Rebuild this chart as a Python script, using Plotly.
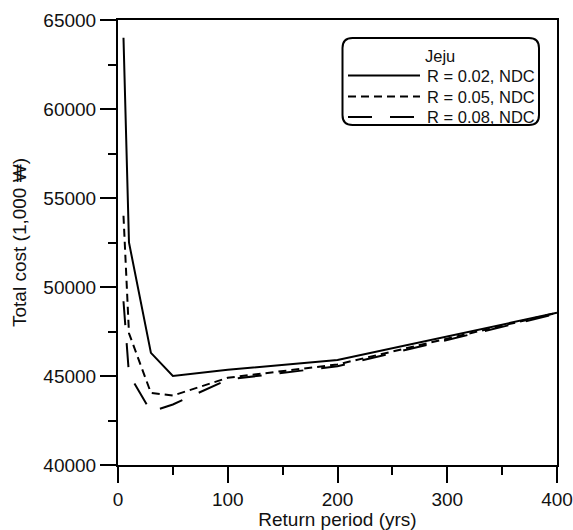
import plotly.graph_objects as go

# Return periods (years) and total cost (1,000 won) for Jeju under three discount rates
return_period = [5, 10, 30, 50, 100, 200, 400]
cost_r002 = [64000, 52500, 46300, 45000, 45350, 45900, 48550]
cost_r005 = [54000, 47400, 44050, 43900, 44900, 45650, 48550]
cost_r008 = [49200, 45100, 43000, 43400, 44800, 45550, 48500]

series_names = ["R = 0.02, NDC", "R = 0.05, NDC", "R = 0.08, NDC"]
series_values = [cost_r002, cost_r005, cost_r008]
series_dash = ["solid", "8px,5px", "24px,18px"]

x_ticks = [0, 100, 200, 300, 400]
y_ticks = [40000, 45000, 50000, 55000, 60000, 65000]

FONT = "Liberation Sans, Arial, sans-serif"
W, H = 573, 530
L, R, T, B = 118, 16, 20, 65
PW, PH = W - L - R, H - T - B
MAJOR_LEN, MINOR_LEN = 16, 8


def fx(px):
    """Pixel x -> paper x."""
    return (px - L) / PW


def fy(py):
    """Pixel y -> paper y."""
    return (H - B - py) / PH


fig = go.Figure()
for name, vals, dash in zip(series_names, series_values, series_dash):
    fig.add_trace(go.Scatter(
        x=return_period, y=vals, mode="lines", name=name,
        line=dict(color="black", width=2, dash=dash),
        showlegend=False,
    ))

tick_font = dict(family=FONT, size=19, color="#111")
x_step = x_ticks[1] - x_ticks[0]
y_step = y_ticks[1] - y_ticks[0]

fig.update_layout(
    xaxis=dict(
        range=[x_ticks[0], x_ticks[-1]],
        tickvals=x_ticks, ticktext=[str(v) for v in x_ticks],
        ticks="outside", ticklen=MAJOR_LEN, tickwidth=2, tickcolor="black",
        minor=dict(dtick=x_step / 2, ticks="outside", ticklen=MINOR_LEN,
                   tickwidth=2, tickcolor="black"),
        showgrid=False, zeroline=False,
        showline=True, linecolor="black", linewidth=2, mirror=True,
        tickfont=tick_font,
        title=dict(text="Return period (yrs)", font=tick_font, standoff=0),
    ),
    yaxis=dict(
        range=[y_ticks[0], y_ticks[-1]],
        tickvals=y_ticks, ticktext=[str(v) for v in y_ticks],
        ticks="outside", ticklen=MAJOR_LEN, tickwidth=2, tickcolor="black",
        minor=dict(dtick=y_step / 2, ticks="outside", ticklen=MINOR_LEN,
                   tickwidth=2, tickcolor="black"),
        showgrid=False, zeroline=False,
        showline=True, linecolor="black", linewidth=2, mirror=True,
        tickfont=tick_font,
        title=dict(text="Total cost (1,000 ₩)", font=tick_font, standoff=12),
    ),
)

# Legend drawn as a rounded box with sample lines
bx0, bx1, by0, by1 = fx(342.5), fx(539), fy(125), fy(38)
rx, ry = 10 / PW, 10 / PH
box_path = (
    f"M {bx0 + rx},{by1} L {bx1 - rx},{by1} Q {bx1},{by1} {bx1},{by1 - ry} "
    f"L {bx1},{by0 + ry} Q {bx1},{by0} {bx1 - rx},{by0} "
    f"L {bx0 + rx},{by0} Q {bx0},{by0} {bx0},{by0 + ry} "
    f"L {bx0},{by1 - ry} Q {bx0},{by1} {bx0 + rx},{by1} Z"
)
shapes = [dict(type="path", xref="paper", yref="paper", path=box_path,
               line=dict(color="black", width=2), fillcolor="white", layer="above")]
annotations = [dict(xref="paper", yref="paper", x=fx(440), y=fy(56), text="Jeju",
                    showarrow=False, xanchor="center", yanchor="middle",
                    font=dict(family=FONT, size=16.5, color="#111"))]
row_y = [75.5, 96.5, 117]
for name, dash, py in zip(series_names, series_dash, row_y):
    shapes.append(dict(type="line", xref="paper", yref="paper",
                       x0=fx(348), x1=fx(420), y0=fy(py), y1=fy(py),
                       line=dict(color="black", width=2, dash=dash), layer="above"))
    annotations.append(dict(xref="paper", yref="paper", x=fx(425), y=fy(py), text=name,
                            showarrow=False, xanchor="left", yanchor="middle",
                            font=dict(family=FONT, size=16.5, color="#111")))

fig.update_layout(
    width=W, height=H,
    margin=dict(l=L, r=R, t=T, b=B, autoexpand=False),
    paper_bgcolor="white", plot_bgcolor="white",
    shapes=shapes, annotations=annotations,
    font=dict(family=FONT, color="#111"),
)

fig.write_html("out.html")
